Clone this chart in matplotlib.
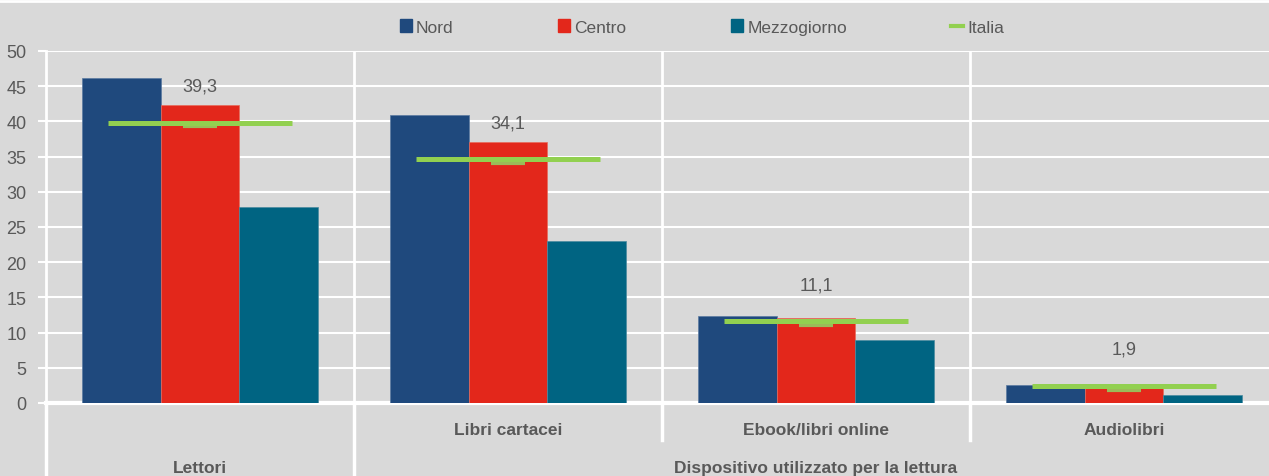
import matplotlib
matplotlib.use('Agg')
from matplotlib import pyplot as plt
from matplotlib import transforms
from matplotlib.lines import Line2D
from matplotlib.patches import Patch
import numpy as np

plt.rcParams['font.family'] = ['Liberation Sans', 'DejaVu Sans']

# data
categories = ['Lettori', 'Libri cartacei', 'Ebook/libri online', 'Audiolibri']
nord = [46.1, 40.9, 12.4, 2.5]
centro = [42.3, 37.1, 12.1, 2.1]
mezzogiorno = [27.9, 23.0, 8.9, 1.1]
italia = [39.3, 34.1, 11.1, 1.9]
group_label = 'Dispositivo utilizzato per la lettura'

BG = '#D9D9D9'
TXT = '#595959'
C_NORD = '#1F497D'
C_CENTRO = '#E3271B'
C_MEZZ = '#006482'
C_ITA = '#92D050'
FS = 12.5

W, H = 1269, 477
fig = plt.figure(figsize=(W / 100, H / 100), dpi=100, facecolor=BG)
ax = fig.add_axes([46 / W, 73 / H, 4 * 308 / W, 352 / H])
ax.set_facecolor(BG)

x = np.arange(len(categories))
bw = 0.256
ax.bar(x - bw, nord, bw, color=C_NORD, edgecolor='#5a7aa0', linewidth=0.5, zorder=3)
ax.bar(x, centro, bw, color=C_CENTRO, edgecolor='#e86a5a', linewidth=0.5, zorder=3)
ax.bar(x + bw, mezzogiorno, bw, color=C_MEZZ, edgecolor='#4a8aa0', linewidth=0.5, zorder=3)

# Italia: long line slightly above, small dash marker at the value
up = transforms.offset_copy(ax.transData, fig=fig, y=2.7, units='points')
ax.hlines(italia, x - 0.055, x + 0.055, color='#9BBB59', linewidth=3.0, zorder=4)
ax.hlines(italia, x - 0.30, x + 0.30, color=C_ITA, linewidth=3.6, zorder=5,
          transform=up)

for xi, v in zip(x, italia):
    ax.annotate(('%.1f' % v).replace('.', ','), (xi, v), xytext=(0, 29),
                textcoords='offset points', ha='center', va='center',
                fontsize=13, color=TXT, zorder=6)

ax.set_xlim(-0.5, len(categories) - 0.5)
ax.set_ylim(0, 50)
ax.set_yticks(np.arange(0, 51, 5))
ax.set_xticks([])
ax.tick_params(axis='y', colors='white', length=6, width=1.5, labelcolor=TXT,
               labelsize=13, pad=8)
ax.yaxis.grid(True, color='white', linewidth=1.5, zorder=0)
ax.set_axisbelow(True)
for s in ['top', 'right']:
    ax.spines[s].set_visible(False)
ax.spines['left'].set_color('white')
ax.spines['left'].set_linewidth(2)
ax.spines['bottom'].set_color('white')
ax.spines['bottom'].set_linewidth(3)

# vertical separators between groups (inside plot and down into category area)
bt = transforms.blended_transform_factory(ax.transData, ax.transAxes)
px = 1 / 352  # one pixel in axes-y units
for b in x[:-1] + 0.5:
    ax.plot([b, b], [0, 1], color='white', lw=2, transform=bt, zorder=1)
for b, depth in [(-0.5, 80), (0.5, 80), (1.5, 37), (2.5, 37)]:
    ax.plot([b, b], [-2 * px, -depth * px], color='white', lw=2.5,
            transform=bt, clip_on=False)

# category labels
for xi, lab in zip(x[1:], categories[1:]):
    ax.text(xi, -27 * px, lab, transform=bt, ha='center', va='center',
            fontsize=FS, fontweight='bold', color=TXT)
ax.text(x[0], -65 * px, categories[0], transform=bt, ha='center', va='center',
        fontsize=FS, fontweight='bold', color=TXT)
ax.text(x[2], -65 * px, group_label, transform=bt, ha='center', va='center',
        fontsize=FS, fontweight='bold', color=TXT)

# top border line
fig.add_artist(Line2D([0, 1], [1 - 2 / H, 1 - 2 / H], color='white', lw=2,
                      transform=fig.transFigure))

handles = [Patch(color=C_NORD), Patch(color=C_CENTRO), Patch(color=C_MEZZ),
           Line2D([], [], color=C_ITA, lw=3)]
fig.legend(handles, ['Nord', 'Centro', 'Mezzogiorno', 'Italia'], ncol=4,
           loc='center', bbox_to_anchor=(702 / W, 1 - 28 / H), frameon=False,
           fontsize=FS, labelcolor=TXT, handlelength=0.7, handleheight=0.7,
           handletextpad=0.25, columnspacing=6.0)

fig.savefig('out.png', dpi=100, facecolor=BG)
